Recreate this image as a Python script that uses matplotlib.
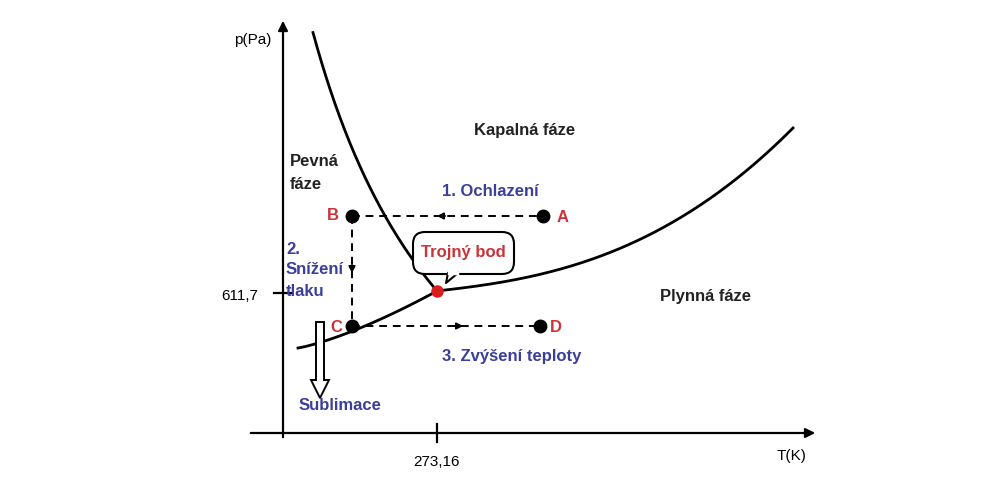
import numpy as np
import matplotlib
matplotlib.use("Agg")
import matplotlib.pyplot as plt
from matplotlib.patches import FancyArrow, FancyBboxPatch

# Diagram drawn in picture coordinates (x right, y down)
triple = (437, 291)
melt_top = (313, 32)
melt_x0, melt_k = 150, 97500   # hyperbola y = b - k / (x - x0)
vap_end = (793, 128)
sub_start = (298, 348)
points = {"A": (543, 216), "B": (352, 216), "C": (352, 326), "D": (540, 326)}
x_tick, x_tick_label = 437, "273,16"
y_tick, y_tick_label = 293, "611,7"

BLUE = "#3B3F9A"
RED = "#C8343A"
plt.rcParams["font.family"] = ["Liberation Sans", "DejaVu Sans"]

fig = plt.figure(figsize=(9.93, 5.04), dpi=100)
ax = fig.add_axes([0, 0, 1, 1])
ax.set_xlim(0, 993)
ax.set_ylim(504, 0)
ax.axis("off")

# axes
ax.annotate("", xy=(283, 18), xytext=(283, 440),
            arrowprops=dict(arrowstyle="-|>", color="black", lw=1.6, mutation_scale=14))
ax.annotate("", xy=(818, 433), xytext=(248, 433),
            arrowprops=dict(arrowstyle="-|>", color="black", lw=1.6, mutation_scale=14))
ax.plot([x_tick, x_tick], [424, 442], color="black", lw=1.6)
ax.plot([274, 292], [y_tick, y_tick], color="black", lw=1.6)
ax.text(x_tick, 462, x_tick_label, ha="center", va="center", fontsize=11)
ax.text(240, 296, y_tick_label, ha="center", va="center", fontsize=11)
ax.text(253, 40, "p(Pa)", ha="center", va="center", fontsize=11)
ax.text(792, 456, "T(K)", ha="center", va="center", fontsize=11)

t = np.linspace(0, 1, 200)
# melting curve
b = triple[1] + melt_k / (triple[0] - melt_x0)
mx = np.linspace(melt_top[0], triple[0], 200)
my = b - melt_k / (mx - melt_x0)
ax.plot(mx, my, color="black", lw=2)
# vaporization curve
vx = triple[0] + (vap_end[0] - triple[0]) * t
vy = triple[1] - (triple[1] - vap_end[1]) * (0.25 * t + 0.75 * t ** 2.6)
ax.plot(vx, vy, color="black", lw=2)
# sublimation curve
sx = sub_start[0] + (triple[0] - sub_start[0]) * t
sy = sub_start[1] - (sub_start[1] - triple[1]) * (0.35 * t + 0.65 * t ** 1.5)
ax.plot(sx, sy, color="black", lw=2)
ax.plot(*triple, "o", color="#D62020", ms=8, zorder=5)

# process paths
A, B, C, D = (points[k] for k in "ABCD")
for p, q in [(B, A), (B, C), (C, D)]:
    ax.plot([p[0], q[0]], [p[1], q[1]], ls=(0, (4, 3)), color="black", lw=1.4)
for (x0, y0), (x1, y1) in [((448, 216), (434, 216)), ((352, 262), (352, 276)), ((452, 326), (466, 326))]:
    ax.annotate("", xy=(x1, y1), xytext=(x0, y0),
                arrowprops=dict(arrowstyle="-|>", color="black", lw=1.2, mutation_scale=10))
for k, (x, y) in points.items():
    ax.plot(x, y, "o", color="black", ms=9)
off = {"A": (20, 2), "B": (-19, 0), "C": (-16, 2), "D": (16, 2)}
for k, (x, y) in points.items():
    ax.text(x + off[k][0], y + off[k][1], k, color=RED, fontsize=12, fontweight="bold",
            ha="center", va="center")

# sublimation hollow arrow
ax.add_patch(FancyArrow(320, 322, 0, 58, width=8, head_width=18, head_length=18,
                        fc="white", ec="black", lw=1.4, zorder=4))

# callout
ax.add_patch(FancyBboxPatch((415, 234), 97, 38, boxstyle="round,pad=2,rounding_size=12",
                            fc="white", ec="black", lw=1.5, zorder=3))
ax.plot([448, 446, 458], [273, 283, 273], color="black", lw=1.5, zorder=4)
ax.plot([449, 457], [272.5, 272.5], color="white", lw=2.5, zorder=4)
ax.text(463, 253, "Trojný bod", color=RED, fontsize=12, fontweight="bold",
        ha="center", va="center", zorder=5)

# labels
kw = dict(fontsize=12, fontweight="bold", va="center")
ax.text(525, 130, "Kapalná fáze", ha="center", color="#222222", **kw)
ax.text(290, 173, "Pevná\nfáze", ha="left", color="#222222", linespacing=1.6, **kw)
ax.text(705, 296, "Plynná fáze", ha="center", color="#222222", **kw)
ax.text(490, 192, "1. Ochlazení", ha="center", color=BLUE, **kw)
ax.text(286, 270, "2.\nSnížení\ntlaku", ha="left", color=BLUE, linespacing=1.5, **kw)
ax.text(512, 356, "3. Zvýšení teploty", ha="center", color=BLUE, **kw)
ax.text(340, 405, "Sublimace", ha="center", color=BLUE, **kw)

fig.savefig("out.png", dpi=100)
